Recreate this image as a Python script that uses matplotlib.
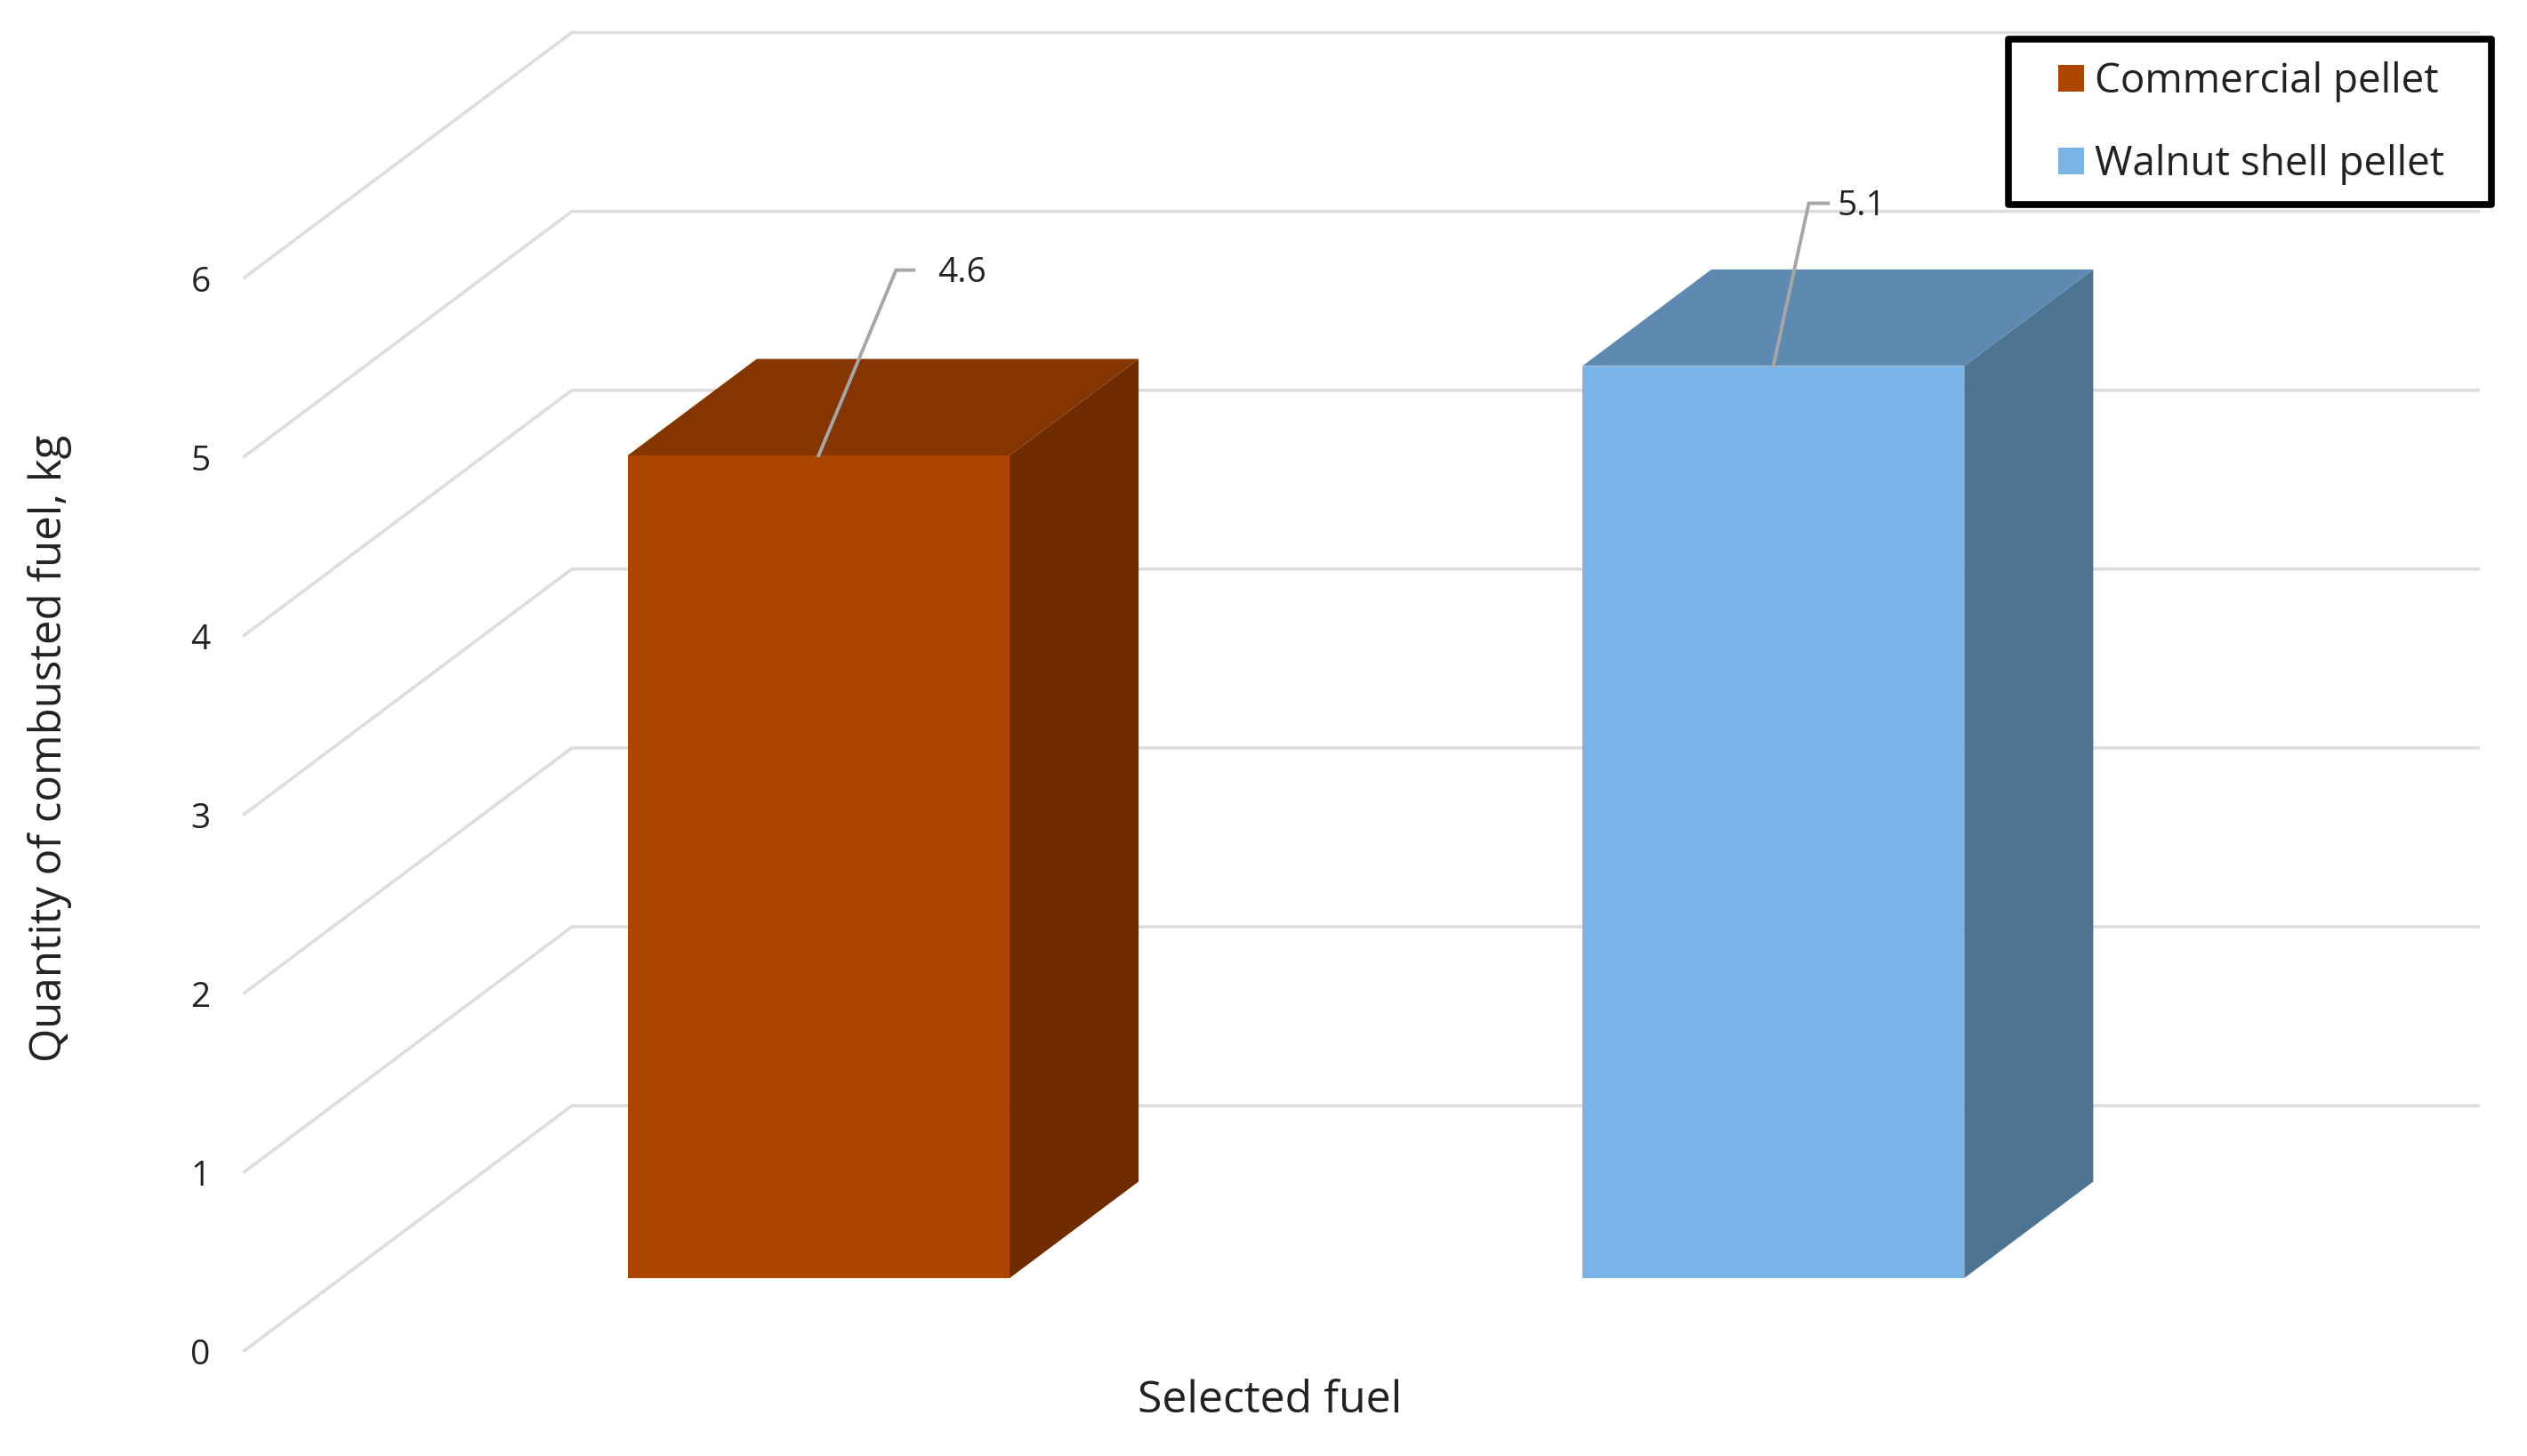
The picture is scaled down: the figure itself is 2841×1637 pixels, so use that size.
import matplotlib
matplotlib.use('Agg')
import matplotlib.pyplot as plt
from matplotlib.patches import Polygon, Patch, Rectangle

fuels = ['Commercial pellet', 'Walnut shell pellet']
quantity = [4.6, 5.1]
y_ticks = [0, 1, 2, 3, 4, 5, 6]

front_colors = ['#AB4500', '#78B4E5']
top_colors = ['#843500', '#5E89B1']
side_colors = ['#6F2C00', '#4E7494']

# oblique projection of the excel 3d look
DX = 0.343
DY = 1.37
BAR_W = 0.40
D_FRONT = 0.296
D_BACK = 0.69
K = 2841 / 1568
PX = K / 1073
PY = K / 201.1


def proj(x, v, d):
    return x + DX * d, v + DY * d


plt.rcParams['font.family'] = ['Open Sans', 'DejaVu Sans']
fig = plt.figure(figsize=(28.41, 16.37), dpi=100)
ax = fig.add_axes([0, 0, 1, 1])
ax.set_xlim(-0.756, 1.891)
ax.set_ylim(-0.589, 7.552)
ax.axis('off')

# floor-to-wall gridlines
for t in y_ticks:
    xs, ys = zip(proj(-0.5, t, 0), proj(-0.5, t, 1), proj(1.497, t, 1))
    ax.plot(xs, ys, color='#DDDDDD', lw=2.6, zorder=1, solid_joinstyle='miter')
    ax.text(-0.5 - 21 * PX, t - 3 * PY, str(t), ha='right', va='center', fontsize=28, color='#222222')

# leader offsets in shrunk image pixels
elbows = [(48, 115), (22, 101)]
elbow_ends = [(59, 115), (34, 101)]
label_shift = [(89, 113), (55, 99)]
for i, v in enumerate(quantity):
    l, r = i - BAR_W / 2, i + BAR_W / 2
    front = [proj(l, 0, D_FRONT), proj(r, 0, D_FRONT), proj(r, v, D_FRONT), proj(l, v, D_FRONT)]
    top = [proj(l, v, D_FRONT), proj(r, v, D_FRONT), proj(r, v, D_BACK), proj(l, v, D_BACK)]
    side = [proj(r, 0, D_FRONT), proj(r, 0, D_BACK), proj(r, v, D_BACK), proj(r, v, D_FRONT)]
    ax.add_patch(Polygon(side, fc=side_colors[i], ec='none', zorder=2))
    ax.add_patch(Polygon(top, fc=top_colors[i], ec='none', zorder=2))
    ax.add_patch(Polygon(front, fc=front_colors[i], ec='none', zorder=3))

    x0, y0 = proj(i, v, D_FRONT)
    ax.plot([x0, x0 + elbows[i][0] * PX, x0 + elbow_ends[i][0] * PX],
            [y0, y0 + elbows[i][1] * PY, y0 + elbow_ends[i][1] * PY],
            color='#A6A6A6', lw=2.8, zorder=4, solid_joinstyle='miter')
    ax.text(x0 + label_shift[i][0] * PX, y0 + label_shift[i][1] * PY, str(v),
            ha='center', va='center', fontsize=28, color='#222222', zorder=5)

ax.text(0.5025, 0.038, 'Selected fuel', transform=ax.transAxes, ha='center', va='center',
        fontsize=36, color='#222222')
ax.text(0.0198, 0.486, 'Quantity of combusted fuel, kg', transform=ax.transAxes, rotation=90,
        ha='center', va='center', fontsize=35.5, color='#222222')

# legend frame drawn apart: its side padding is wider than the top and bottom one
ax.add_patch(Rectangle((1246 / 1568, 1 - 127 / 903), 300 / 1568, 103 / 903, transform=ax.transAxes,
                       fc='white', ec='black', lw=5.5, zorder=6, joinstyle='round'))
handles = [Patch(fc=c, ec='none', label=f) for c, f in zip(front_colors, fuels)]
leg = ax.legend(handles=handles, loc='upper right', bbox_to_anchor=(1517 / 1568, 1 - 38 / 903),
                fontsize=33, frameon=False, handlelength=0.63, handleheight=0.63,
                handletextpad=0.28, labelspacing=1.02, borderpad=0, borderaxespad=0,
                labelcolor='#222222')
leg.set_zorder(7)

fig.savefig('out.png', dpi=100, facecolor='white')
